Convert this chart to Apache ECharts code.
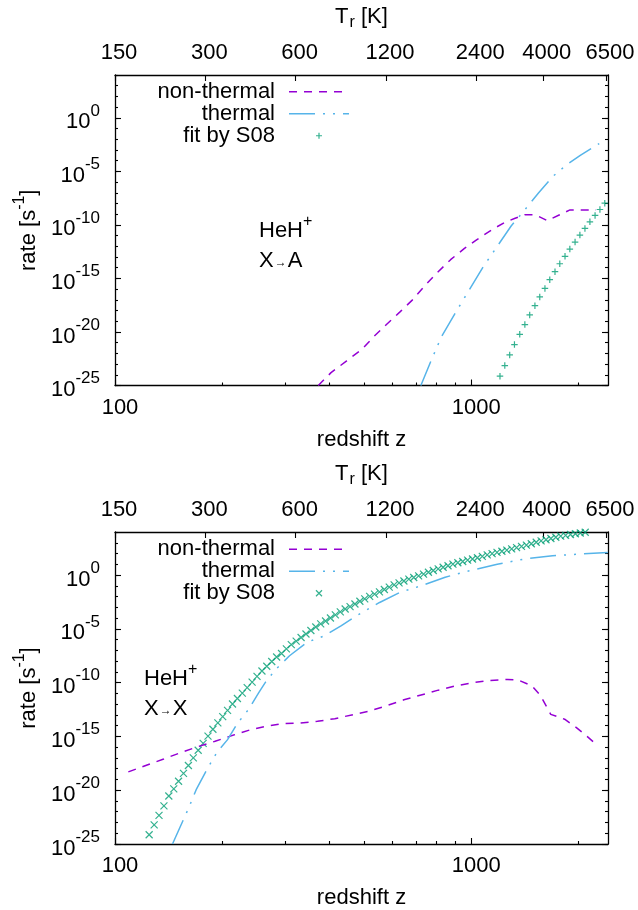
<!DOCTYPE html>
<html><head><meta charset="utf-8">
<script src="https://cdn.jsdelivr.net/npm/echarts@6/dist/echarts.min.js"></script>
<style>html,body{margin:0;padding:0;background:#fff}#c{width:638px;height:910px}</style>
</head><body><div id="c"></div>
<script>
// ---------- axis definitions ----------
const zRange = [100, 2420];                 // redshift z (log scale)
const zTicksMajor = [100, 1000];
const zTicksMinor = [200, 300, 400, 500, 600, 700, 800, 900, 2000];
const tempRange = [150, 6600];              // T_r [K] (log scale, top axis)
const tempTicks = [150, 300, 600, 1200, 2400, 4000, 6500];
const rateExpRange = [-25, 4];              // log10(rate [s^-1])
const rateTickExps = [-25, -20, -15, -10, -5, 0];

// ---------- panel 1: HeH+ X->A   [z, log10(rate)] ----------
const xaNonThermal = [[372,-25.0],[404,-23.8],[447,-22.7],[494,-21.6],[534,-20.4],[578,-19.3],[632,-18.1],[684,-17.0],[740,-15.7],[800,-14.5],[875,-13.25],[957,-12.2],[1035,-11.4],[1143,-10.45],[1236,-9.8],[1322,-9.4],[1413,-9.05],[1512,-9.05],[1636,-9.6],[1771,-9.05],[1893,-8.6],[2070,-8.6],[2240,-8.6]];
const xaThermal = [[722,-25.0],[773,-22.6],[826,-20.4],[903,-18.2],[988,-16.05],[1081,-13.9],[1183,-12.0],[1294,-10.1],[1413,-8.6],[1546,-7.0],[1691,-5.5],[1849,-4.4],[2023,-3.5],[2287,-2.4]];
const xaFitS08 = [[1204,-24.13],[1242,-23.14],[1282,-22.14],[1322,-21.18],[1368,-20.22],[1414,-19.31],[1459,-18.41],[1509,-17.54],[1557,-16.73],[1610,-15.93],[1661,-15.12],[1718,-14.37],[1772,-13.63],[1833,-12.94],[1891,-12.26],[1956,-11.60],[2018,-10.95],[2085,-10.33],[2153,-9.71],[2226,-9.12],[2297,-8.56],[2370,-7.97],[2451,-7.41]];

// ---------- panel 2: HeH+ X->X   [z, log10(rate)] ----------
const xxNonThermal = [[109,-18.3],[122,-17.7],[137,-17.1],[153,-16.5],[171,-15.95],[191,-15.45],[214,-14.9],[239,-14.4],[267,-14.05],[296,-13.8],[331,-13.75],[370,-13.6],[414,-13.35],[462,-13.0],[517,-12.65],[578,-12.15],[647,-11.6],[723,-11.15],[808,-10.7],[904,-10.3],[1011,-10.0],[1130,-9.8],[1264,-9.7],[1352,-9.75],[1479,-10.3],[1564,-11.2],[1672,-12.95],[1828,-13.4],[1977,-14.2],[2114,-15.0],[2271,-15.9]];
const xxThermal = [[145,-25.0],[161,-21.65],[169,-19.95],[181,-18.1],[193,-16.5],[207,-15.3],[221,-13.75],[237,-12.5],[253,-10.95],[264,-10.0],[283,-8.75],[309,-7.5],[346,-6.25],[387,-5.65],[432,-4.7],[484,-3.65],[553,-2.55],[632,-1.6],[723,-1.0],[845,-0.2],[988,0.4],[1183,1.0],[1414,1.5],[1691,1.8],[2023,1.95],[2417,2.1]];
const xxFitS08 = [[124.7,-24.14],[128.8,-23.22],[132.9,-22.34],[137.2,-21.45],[141.6,-20.54],[146.2,-19.88],[150.8,-19.17],[155.7,-18.43],[160.7,-17.70],[165.9,-16.99],[171.2,-16.29],[176.8,-15.64],[182.4,-14.97],[188.3,-14.33],[194.4,-13.74],[200.6,-13.16],[207.0,-12.58],[213.7,-11.99],[220.6,-11.48],[227.7,-10.97],[235.0,-10.46],[242.6,-9.95],[250.4,-9.42],[258.5,-8.92],[266.7,-8.48],[275.4,-8.04],[284.2,-7.62],[293.4,-7.29],[302.7,-6.87],[312.5,-6.47],[322.5,-6.15],[332.9,-5.81],[343.6,-5.48],[354.7,-5.16],[366.1,-4.83],[377.9,-4.54],[389.9,-4.27],[402.5,-3.99],[415.4,-3.70],[428.9,-3.42],[442.6,-3.16],[456.9,-2.94],[471.5,-2.69],[486.8,-2.44],[502.3,-2.22],[518.6,-1.99],[535.2,-1.77],[552.5,-1.56],[570.2,-1.34],[588.6,-1.12],[607.5,-0.91],[627.1,-0.73],[647.1,-0.55],[668.0,-0.38],[689.4,-0.23],[711.6,-0.08],[734.5,0.09],[758.2,0.26],[782.4,0.42],[807.6,0.57],[833.7,0.72],[860.5,0.86],[888.2,1.01],[916.9,1.14],[946.2,1.26],[976.8,1.38],[1008.1,1.49],[1040.6,1.61],[1074.0,1.74],[1108.6,1.87],[1144.2,1.99],[1181.1,2.10],[1218.9,2.21],[1258.2,2.31],[1298.5,2.43],[1340.3,2.55],[1383.6,2.67],[1428.0,2.78],[1474.1,2.91],[1521.7,3.05],[1570.4,3.17],[1621.1,3.28],[1673.1,3.40],[1727.0,3.51],[1782.4,3.62],[1839.9,3.69],[1898.9,3.77],[1960.1,3.84],[2023.0,3.91],[2088.4,3.98]];

const seriesNames = ['non-thermal', 'thermal', 'fit by S08'];

// ---------- styling ----------
const F = '"Liberation Sans", Arial, Helvetica, sans-serif';
const FS = 22;
const C_NT = '#9400d3', C_TH = '#56b4e9', C_FIT = '#009e73';
const DASH_NT = [8, 7];
const DASH_TH = [26, 8, 2, 8, 2, 8];
const SYM_PLUS = 'path://M0,5L10,5M5,0L5,10';
const SYM_CROSS = 'path://M0,0L10,10M10,0L0,10';
const lg = Math.log10;
const txt = {fontFamily: F, fontSize: FS, color: '#000'};
const frameLine = {show: true, onZero: false, lineStyle: {color: '#000', width: 1.3}};
const tickLine = {color: '#000', width: 1.1};

const grids = [
  {left: 115, top: 75, width: 493, height: 310.5},
  {left: 115, top: 532, width: 493, height: 312}
];

const xAxes = [], yAxes = [];
const mainX = [], mainY = [];
grids.forEach((g, gi) => {
  mainX.push(xAxes.length);
  xAxes.push({
    gridIndex: gi, type: 'value', position: 'bottom',
    min: lg(zRange[0]), max: lg(zRange[1]),
    axisLine: frameLine,
    axisTick: {show: true, inside: true, length: 6, customValues: zTicksMajor.map(lg), lineStyle: tickLine},
    axisLabel: Object.assign({customValues: zTicksMajor.map(lg), formatter: v => String(Math.round(Math.pow(10, v))), margin: 11, padding: [0, 0, 0, 10]}, txt),
    splitLine: {show: false},
    name: 'redshift z', nameLocation: 'middle', nameGap: 43, nameTextStyle: txt
  });
  xAxes.push({
    gridIndex: gi, type: 'value', position: 'bottom',
    min: lg(zRange[0]), max: lg(zRange[1]),
    axisLine: {show: false, onZero: false},
    axisTick: {show: true, inside: true, length: 3, customValues: zTicksMinor.map(lg), lineStyle: tickLine},
    axisLabel: {show: false}, splitLine: {show: false}
  });
  xAxes.push({
    gridIndex: gi, type: 'value', position: 'top',
    min: lg(tempRange[0]), max: lg(tempRange[1]),
    axisLine: frameLine,
    axisTick: {show: true, inside: true, length: 6, customValues: tempTicks.map(lg), lineStyle: tickLine},
    axisLabel: Object.assign({customValues: tempTicks.map(lg), formatter: v => String(Math.round(Math.pow(10, v))), margin: 11, padding: [0, 0, 0, 8]}, txt),
    splitLine: {show: false},
    name: '{a|T}{r|r}{a| [K]}', nameLocation: 'middle', nameGap: 44,
    nameTextStyle: {rich: {
      a: {fontFamily: F, fontSize: FS, color: '#000', verticalAlign: 'top'},
      r: {fontFamily: F, fontSize: 16, color: '#000', verticalAlign: 'top', padding: [9, 0, 0, 1]}
    }}
  });

  mainY.push(yAxes.length);
  yAxes.push({
    gridIndex: gi, type: 'value', position: 'left',
    min: rateExpRange[0], max: rateExpRange[1],
    axisLine: frameLine,
    axisTick: {show: true, inside: true, length: 6, customValues: rateTickExps, lineStyle: tickLine},
    axisLabel: {customValues: rateTickExps, margin: 15, formatter: v => '{b|10}{s|' + v + '}',
      rich: {
        b: {fontFamily: F, fontSize: FS, color: '#000', verticalAlign: 'bottom'},
        s: {fontFamily: F, fontSize: 17, color: '#000', verticalAlign: 'bottom', padding: [0, 0, 14, 0]}
      }},
    splitLine: {show: false},
    name: '{a|rate [s}{s|-1}{a|]}', nameLocation: 'middle', nameRotate: 90, nameGap: 72,
    nameTextStyle: {rich: {
      a: {fontFamily: F, fontSize: FS, color: '#000', verticalAlign: 'bottom'},
      s: {fontFamily: F, fontSize: 16, color: '#000', verticalAlign: 'bottom', padding: [0, 0, 12, 0]}
    }}
  });
  yAxes.push({
    gridIndex: gi, type: 'value', position: 'left',
    min: rateExpRange[0], max: rateExpRange[1], interval: 1,
    axisLine: {show: false, onZero: false},
    axisTick: {show: true, inside: true, length: 3, lineStyle: tickLine},
    axisLabel: {show: false}, splitLine: {show: false}
  });
  yAxes.push({
    gridIndex: gi, type: 'value', position: 'right',
    min: rateExpRange[0], max: rateExpRange[1],
    axisLine: frameLine,
    axisTick: {show: true, inside: true, length: 6, customValues: rateTickExps, lineStyle: tickLine},
    axisLabel: {show: false}, splitLine: {show: false}
  });
  yAxes.push({
    gridIndex: gi, type: 'value', position: 'right',
    min: rateExpRange[0], max: rateExpRange[1], interval: 1,
    axisLine: {show: false, onZero: false},
    axisTick: {show: true, inside: true, length: 3, lineStyle: tickLine},
    axisLabel: {show: false}, splitLine: {show: false}
  });
});

const toXY = arr => arr.map(p => [lg(p[0]), p[1]]);
function lineSeries(name, data, gi, color, dash) {
  return {type: 'line', name, data: toXY(data), xAxisIndex: mainX[gi], yAxisIndex: mainY[gi],
    symbol: 'none', showSymbol: false, clip: true, silent: true,
    lineStyle: {color, width: 1.5, type: dash}, itemStyle: {color}};
}
function fitSeries(name, data, gi, sym, size) {
  return {type: 'scatter', name, data: toXY(data), xAxisIndex: mainX[gi], yAxisIndex: mainY[gi],
    symbol: sym, symbolSize: size, clip: true, silent: true,
    itemStyle: {color: 'transparent', borderColor: C_FIT, borderWidth: 1.2}};
}
// bottom-panel series get an invisible suffix so each legend finds its own series
const n2 = seriesNames.map(n => n + '\u200b');
const series = [
  lineSeries(seriesNames[0], xaNonThermal, 0, C_NT, DASH_NT),
  lineSeries(seriesNames[1], xaThermal, 0, C_TH, DASH_TH),
  fitSeries(seriesNames[2], xaFitS08, 0, SYM_PLUS, 6.5),
  lineSeries(n2[0], xxNonThermal, 1, C_NT, DASH_NT),
  lineSeries(n2[1], xxThermal, 1, C_TH, DASH_TH),
  fitSeries(n2[2], xxFitS08, 1, SYM_CROSS, 7)
];

const hiddenSym = {color: 'transparent', borderColor: 'transparent', opacity: 0};
function legendAt(top, names) {
  return {
    data: [
      {name: names[0], itemStyle: hiddenSym},
      {name: names[1], itemStyle: hiddenSym},
      {name: names[2]}
    ],
    orient: 'vertical', align: 'right', left: 150, top: top,
    padding: 0, itemGap: 0, itemWidth: 60, itemHeight: 6,
    selectedMode: false,
    lineStyle: {width: 1.5},
    itemStyle: {borderWidth: 1.2},
    formatter: n => '{t|' + n.replace('\u200b', '') + '}',
    textStyle: {rich: {t: {fontFamily: F, fontSize: FS, color: '#000', width: 125, align: 'right', lineHeight: 22.5, padding: [0, 9, 0, 0]}}}
  };
}

const annoRich = {
  a: {fontFamily: F, fontSize: FS, fill: '#000', verticalAlign: 'bottom'},
  s: {fontFamily: F, fontSize: 16, fill: '#000', verticalAlign: 'bottom', padding: [0, 0, 12, 0]},
  r: {fontFamily: F, fontSize: 12, fill: '#000', verticalAlign: 'bottom', padding: [0, 1, 3, 1]}
};
function anno(x, y, text) {
  return {type: 'text', x, y, silent: true, style: {text, rich: annoRich, align: 'left', verticalAlign: 'middle', fill: '#000', fontFamily: F, fontSize: FS}};
}

const chart = echarts.init(document.getElementById('c'), null, {renderer: 'canvas'});
chart.setOption({
  animation: false,
  backgroundColor: '#fff',
  grid: grids.map(g => Object.assign({containLabel: false}, g)),
  xAxis: xAxes,
  yAxis: yAxes,
  legend: [legendAt(80.75, seriesNames), legendAt(538.25, n2)],
  series,
  graphic: [
    anno(259, 228, '{a|HeH}{s|+}'),
    anno(259, 261, '{a|X}{r|→}{a|A}'),
    anno(144, 676, '{a|HeH}{s|+}'),
    anno(144, 709, '{a|X}{r|→}{a|X}')
  ]
});
</script>
</body></html>
